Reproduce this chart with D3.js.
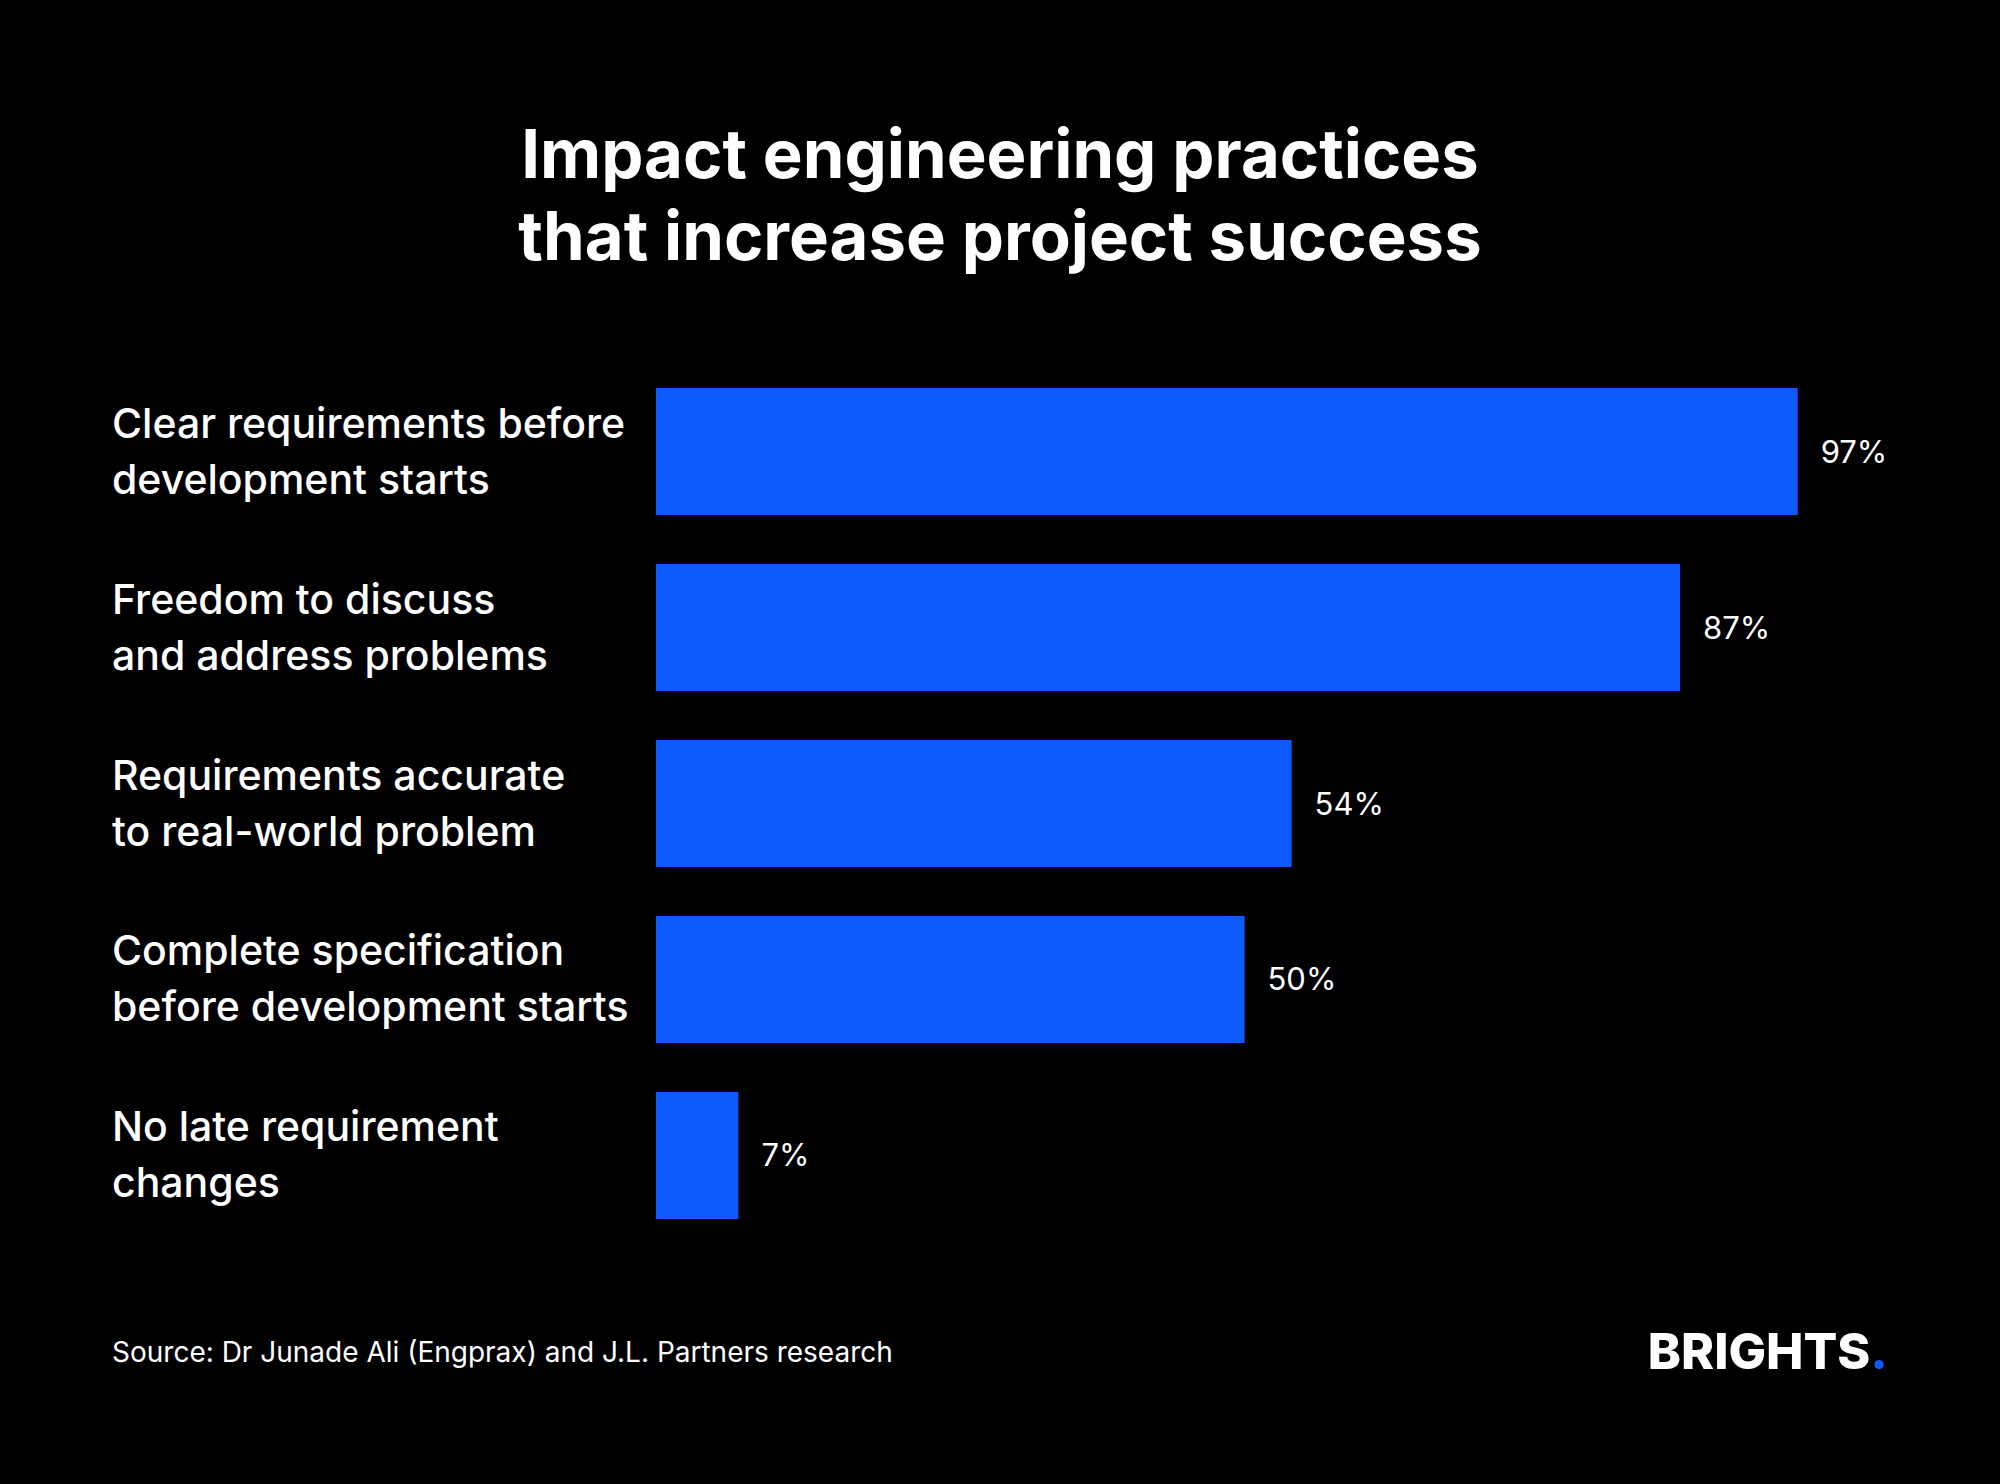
<!DOCTYPE html>
<html><head><meta charset="utf-8">
<script src="https://cdn.jsdelivr.net/npm/d3@7"></script>
<style>body{margin:0;background:#000}svg{display:block}</style>
</head><body>
<script>
var categories = [
  ["Clear requirements before", "development starts"],
  ["Freedom to discuss", "and address problems"],
  ["Requirements accurate", "to real-world problem"],
  ["Complete specification", "before development starts"],
  ["No late requirement", "changes"]
];
var values = [97, 87, 54, 50, 7];

var W = 2000, H = 1484;
var svg = d3.select("body").append("svg").attr("width", W).attr("height", H).style("background", "#000");
var font = "Inter, 'Open Sans', sans-serif";

// title
svg.append("text").attr("x", 1000).attr("y", 178).attr("text-anchor", "middle")
  .attr("fill", "#fff").attr("font-family", font).attr("font-weight", 700).attr("font-size", 67)
  .selectAll("tspan").data(["Impact engineering practices", "that increase project success"]).enter()
  .append("tspan").attr("x", 1000).attr("dy", (d, i) => i ? 82 : 0).text(d => d);

var x = d3.scaleLinear().domain([0, 100]).range([656, 1833]);
var y = d3.scaleBand().domain(d3.range(values.length)).range([388, 1219]).paddingInner(0.278).paddingOuter(0);

var g = svg.selectAll("g.row").data(values).enter().append("g");
g.append("rect").attr("x", x(0)).attr("y", (d, i) => y(i))
  .attr("width", d => x(d) - x(0)).attr("height", y.bandwidth()).attr("fill", "#0d5bff");
g.append("text").attr("x", d => x(d) + 23).attr("y", (d, i) => y(i) + y.bandwidth() / 2 + 11)
  .attr("fill", "#fff").attr("font-family", font).attr("font-size", 31).text(d => d + "%");
g.append("text").attr("fill", "#fff").attr("font-family", font).attr("font-size", 41).attr("font-weight", 500)
  .attr("y", (d, i) => y(i) + y.bandwidth() / 2 - 14)
  .selectAll("tspan").data((d, i) => categories[i]).enter()
  .append("tspan").attr("x", 112).attr("dy", (d, j) => j ? 56 : 0).text(d => d);

svg.append("text").attr("x", 112).attr("y", 1362).attr("fill", "#fff").attr("font-family", font)
  .attr("font-size", 28).text("Source: Dr Junade Ali (Engprax) and J.L. Partners research");

var logo = svg.append("text").attr("x", 1888).attr("y", 1369).attr("text-anchor", "end")
  .attr("fill", "#fff").attr("font-family", font).attr("font-weight", 800).attr("font-size", 50);
logo.append("tspan").text("BRIGHTS");
logo.append("tspan").attr("fill", "#0d5bff").text(".");
</script>
</body></html>
